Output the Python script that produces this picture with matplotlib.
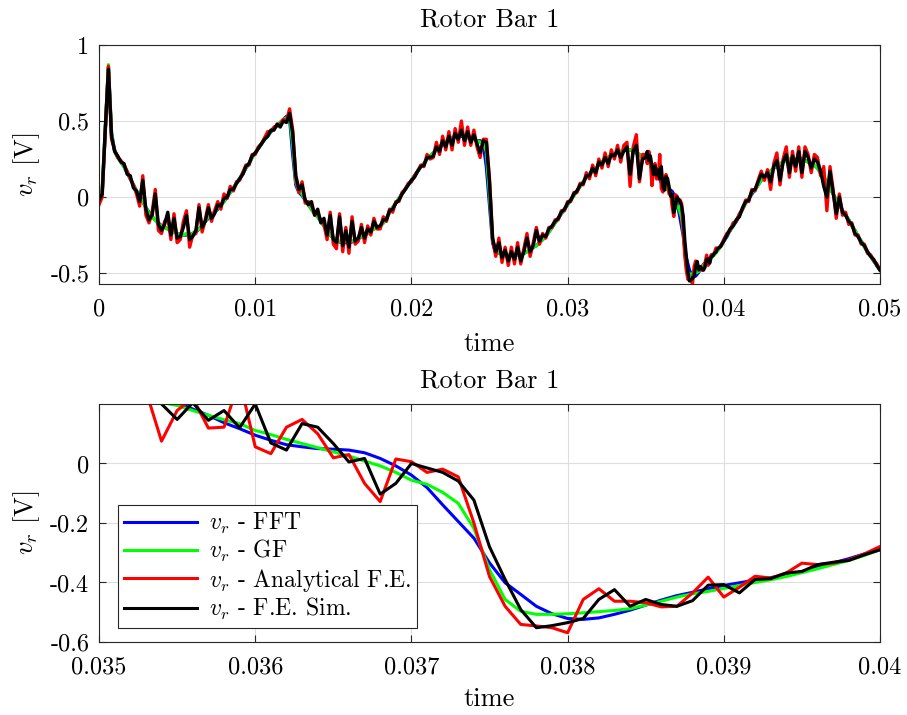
import numpy as np
import matplotlib
matplotlib.use('Agg')
import matplotlib.pyplot as plt

plt.rcParams['font.family'] = 'serif'
plt.rcParams['font.serif'] = ['cmr10']
plt.rcParams['mathtext.fontset'] = 'cm'
plt.rcParams['axes.formatter.use_mathtext'] = True

# sampling steps (s): coarse outside the zoom window, fine inside it
step_coarse = 0.0002
step_fine = 0.0001

# ---- v_r - FFT
fft_a = [-0.02, 0.03, 0.44, 0.85, 0.42, 0.30, 0.26, 0.23, 0.20, 0.16,
         0.12, 0.08, 0.04, 0.01, -0.03, -0.07, -0.10, -0.13, -0.15, -0.17,
         -0.19, -0.20, -0.21, -0.22, -0.23, -0.24, -0.245, -0.25, -0.25, -0.25,
         -0.24, -0.23, -0.21, -0.19, -0.16, -0.14, -0.12, -0.10, -0.08, -0.05,
         -0.03, 0.00, 0.03, 0.06, 0.09, 0.12, 0.15, 0.19, 0.22, 0.26,
         0.29, 0.32, 0.35, 0.38, 0.40, 0.43, 0.45, 0.47, 0.49, 0.51,
         0.53, 0.52, 0.28, 0.08, 0.03, 0.01, -0.02, -0.05, -0.08, -0.11,
         -0.13, -0.16, -0.19, -0.22, -0.25, -0.27, -0.285, -0.295, -0.30, -0.30,
         -0.30, -0.295, -0.285, -0.275, -0.26, -0.25, -0.24, -0.22, -0.21, -0.20,
         -0.19, -0.17, -0.14, -0.10, -0.07, -0.04, -0.01, 0.02, 0.05, 0.08,
         0.11, 0.14, 0.17, 0.20, 0.22, 0.25, 0.27, 0.29, 0.31, 0.33,
         0.35, 0.36, 0.38, 0.39, 0.40, 0.40, 0.40, 0.40, 0.39, 0.38,
         0.38, 0.37, 0.37, 0.35, 0.20, -0.05, -0.30, -0.37, -0.37, -0.37,
         -0.38, -0.38, -0.39, -0.39, -0.38, -0.38, -0.37, -0.36, -0.35, -0.33,
         -0.32, -0.30, -0.28, -0.26, -0.23, -0.20, -0.17, -0.14, -0.11, -0.08,
         -0.05, -0.02, 0.01, 0.04, 0.07, 0.10, 0.13, 0.15, 0.17, 0.19,
         0.21, 0.23, 0.25, 0.26, 0.27, 0.28, 0.29, 0.30, 0.31, 0.31,
         0.31, 0.30, 0.29, 0.28, 0.265]
fft_b = [0.255, 0.245, 0.235, 0.225, 0.215, 0.205, 0.183, 0.162, 0.137, 0.117,
         0.095, 0.078, 0.063, 0.056, 0.050, 0.048, 0.045, 0.036, 0.017, -0.008,
         -0.039, -0.081, -0.139, -0.195, -0.251, -0.334, -0.401, -0.44, -0.48, -0.505,
         -0.521, -0.524, -0.519, -0.507, -0.493, -0.476, -0.459, -0.444, -0.433, -0.421,
         -0.41, -0.401, -0.392, -0.384, -0.374, -0.363, -0.349, -0.334, -0.32, -0.304,
         -0.29]
fft_c = [-0.26, -0.22, -0.19, -0.16, -0.12, -0.08, -0.04, -0.01, 0.02, 0.05,
         0.08, 0.11, 0.13, 0.15, 0.17, 0.19, 0.20, 0.21, 0.23, 0.24,
         0.25, 0.25, 0.25, 0.25, 0.25, 0.24, 0.23, 0.22, 0.21, 0.19,
         0.16, 0.13, 0.10, 0.06, 0.02, -0.02, -0.05, -0.09, -0.12, -0.15,
         -0.19, -0.22, -0.26, -0.29, -0.32, -0.36, -0.39, -0.42, -0.45, -0.48]

# ---- v_r - GF
gf_a = [-0.02, 0.04, 0.46, 0.87, 0.41, 0.30, 0.26, 0.23, 0.20, 0.16,
        0.12, 0.08, 0.04, 0.00, -0.03, -0.07, -0.11, -0.13, -0.15, -0.18,
        -0.19, -0.20, -0.21, -0.23, -0.23, -0.24, -0.25, -0.25, -0.24, -0.26,
        -0.24, -0.22, -0.21, -0.19, -0.16, -0.13, -0.12, -0.10, -0.07, -0.05,
        -0.03, 0.00, 0.03, 0.06, 0.09, 0.12, 0.16, 0.19, 0.22, 0.26,
        0.29, 0.32, 0.35, 0.38, 0.40, 0.43, 0.45, 0.47, 0.49, 0.51,
        0.52, 0.54, 0.35, 0.10, 0.04, 0.02, -0.02, -0.05, -0.08, -0.11,
        -0.13, -0.16, -0.19, -0.22, -0.25, -0.27, -0.28, -0.29, -0.30, -0.29,
        -0.30, -0.29, -0.28, -0.27, -0.26, -0.25, -0.24, -0.22, -0.21, -0.20,
        -0.19, -0.17, -0.14, -0.10, -0.07, -0.04, -0.01, 0.02, 0.05, 0.08,
        0.11, 0.14, 0.17, 0.20, 0.22, 0.25, 0.27, 0.29, 0.31, 0.33,
        0.35, 0.36, 0.38, 0.39, 0.40, 0.40, 0.41, 0.40, 0.39, 0.38,
        0.38, 0.37, 0.36, 0.36, 0.30, 0.02, -0.28, -0.36, -0.37, -0.37,
        -0.38, -0.38, -0.39, -0.38, -0.38, -0.38, -0.37, -0.36, -0.35, -0.33,
        -0.32, -0.30, -0.28, -0.26, -0.23, -0.20, -0.17, -0.14, -0.11, -0.08,
        -0.05, -0.02, 0.01, 0.04, 0.07, 0.10, 0.13, 0.15, 0.17, 0.19,
        0.21, 0.23, 0.25, 0.26, 0.27, 0.28, 0.29, 0.30, 0.31, 0.31,
        0.31, 0.30, 0.29, 0.28, 0.26]
gf_b = [0.25, 0.24, 0.225, 0.215, 0.205, 0.195, 0.178, 0.162, 0.147, 0.134,
        0.111, 0.097, 0.081, 0.067, 0.053, 0.039, 0.025, 0.008, -0.008, -0.030,
        -0.056, -0.070, -0.097, -0.134, -0.218, -0.357, -0.457, -0.497, -0.507, -0.507,
        -0.505, -0.502, -0.498, -0.494, -0.488, -0.476, -0.463, -0.449, -0.438, -0.43,
        -0.42, -0.41, -0.40, -0.391, -0.38, -0.367, -0.354, -0.34, -0.326, -0.309,
        -0.29]
gf_c = [-0.25, -0.22, -0.19, -0.15, -0.12, -0.08, -0.04, -0.01, 0.03, 0.05,
        0.08, 0.11, 0.13, 0.15, 0.17, 0.19, 0.21, 0.22, 0.23, 0.24,
        0.25, 0.26, 0.25, 0.25, 0.25, 0.24, 0.23, 0.22, 0.21, 0.19,
        0.16, 0.13, 0.10, 0.06, 0.02, -0.02, -0.05, -0.09, -0.12, -0.15,
        -0.19, -0.22, -0.26, -0.29, -0.33, -0.36, -0.39, -0.42, -0.45, -0.48]

# ---- v_r - Analytical F.E.
afe_a = [-0.05, 0.00, 0.43, 0.86, 0.38, 0.31, 0.26, 0.24, 0.21, 0.17,
         0.12, 0.08, 0.02, -0.06, 0.14, -0.12, -0.17, -0.10, 0.05, -0.22,
         -0.24, -0.16, -0.13, -0.28, -0.11, -0.30, -0.28, -0.16, -0.09, -0.33,
         -0.25, -0.24, -0.05, -0.23, -0.15, -0.05, -0.16, -0.09, -0.03, -0.08,
         0.02, -0.01, 0.07, 0.04, 0.10, 0.11, 0.16, 0.21, 0.21, 0.28,
         0.28, 0.33, 0.35, 0.39, 0.43, 0.43, 0.46, 0.47, 0.48, 0.51,
         0.50, 0.58, 0.44, 0.12, 0.03, 0.10, -0.04, -0.03, -0.06, -0.10,
         -0.11, -0.15, -0.18, -0.28, -0.10, -0.31, -0.34, -0.11, -0.36, -0.20,
         -0.37, -0.13, -0.31, -0.29, -0.18, -0.30, -0.19, -0.25, -0.14, -0.21,
         -0.21, -0.13, -0.16, -0.08, -0.10, -0.03, -0.03, 0.03, 0.05, 0.09,
         0.10, 0.14, 0.17, 0.21, 0.20, 0.28, 0.25, 0.26, 0.36, 0.28,
         0.40, 0.31, 0.43, 0.31, 0.45, 0.36, 0.50, 0.34, 0.46, 0.34,
         0.44, 0.33, 0.26, 0.38, 0.38, 0.12, -0.28, -0.39, -0.27, -0.43,
         -0.33, -0.45, -0.33, -0.44, -0.30, -0.44, -0.34, -0.24, -0.39, -0.30,
         -0.20, -0.31, -0.24, -0.27, -0.20, -0.20, -0.15, -0.15, -0.09, -0.09,
         -0.03, -0.03, 0.03, 0.03, 0.09, 0.08, 0.16, 0.12, 0.21, 0.14,
         0.25, 0.19, 0.29, 0.20, 0.31, 0.25, 0.34, 0.23, 0.34, 0.36,
         0.07, 0.33, 0.41, 0.10, 0.28]
afe_b = [0.28, 0.22, 0.30, 0.245, 0.075, 0.178, 0.22, 0.119, 0.122, 0.28,
         0.056, 0.033, 0.122, 0.148, 0.100, 0.019, 0.030, -0.067, -0.128, 0.015,
         0.006, -0.030, -0.019, -0.045, -0.20, -0.38, -0.48, -0.541, -0.546, -0.552,
         -0.569, -0.457, -0.421, -0.463, -0.463, -0.468, -0.482, -0.48, -0.435, -0.382,
         -0.449, -0.416, -0.379, -0.385, -0.368, -0.335, -0.34, -0.335, -0.324, -0.304,
         -0.279]
afe_c = [-0.24, -0.22, -0.17, -0.16, -0.11, -0.08, -0.02, -0.03, 0.05, 0.04,
         0.11, 0.17, 0.11, 0.18, 0.05, 0.22, 0.29, 0.08, 0.25, 0.33,
         0.13, 0.30, 0.17, 0.33, 0.13, 0.33, 0.28, 0.16, 0.28, 0.26,
         0.14, 0.20, -0.09, 0.20, 0.05, -0.14, 0.02, -0.12, -0.10, -0.18,
         -0.17, -0.25, -0.25, -0.31, -0.31, -0.37, -0.38, -0.42, -0.44, -0.48]

# ---- v_r - F.E. Sim.
fes_a = [-0.02, 0.02, 0.45, 0.84, 0.40, 0.30, 0.27, 0.23, 0.22, 0.15,
         0.14, 0.06, 0.04, -0.03, 0.11, -0.08, -0.15, -0.12, 0.02, -0.18,
         -0.22, -0.18, -0.10, -0.25, -0.14, -0.27, -0.26, -0.20, -0.12, -0.28,
         -0.26, -0.22, -0.07, -0.20, -0.16, -0.07, -0.14, -0.11, -0.05, -0.06,
         -0.01, 0.00, 0.05, 0.05, 0.09, 0.12, 0.15, 0.20, 0.22, 0.27,
         0.29, 0.32, 0.35, 0.38, 0.40, 0.44, 0.44, 0.48, 0.46, 0.50,
         0.49, 0.55, 0.42, 0.14, 0.05, 0.08, -0.02, -0.05, -0.03, -0.12,
         -0.08, -0.17, -0.14, -0.25, -0.12, -0.28, -0.30, -0.13, -0.32, -0.22,
         -0.33, -0.16, -0.29, -0.27, -0.20, -0.27, -0.21, -0.23, -0.16, -0.20,
         -0.19, -0.15, -0.15, -0.09, -0.08, -0.04, -0.02, 0.02, 0.05, 0.08,
         0.11, 0.13, 0.17, 0.20, 0.21, 0.26, 0.26, 0.27, 0.33, 0.30,
         0.37, 0.33, 0.40, 0.34, 0.42, 0.38, 0.44, 0.37, 0.43, 0.36,
         0.41, 0.35, 0.29, 0.37, 0.36, 0.10, -0.27, -0.36, -0.30, -0.40,
         -0.35, -0.42, -0.36, -0.41, -0.33, -0.42, -0.36, -0.27, -0.36, -0.32,
         -0.22, -0.29, -0.25, -0.26, -0.21, -0.19, -0.16, -0.14, -0.10, -0.08,
         -0.04, -0.02, 0.02, 0.04, 0.08, 0.09, 0.14, 0.14, 0.19, 0.16,
         0.23, 0.21, 0.26, 0.22, 0.28, 0.27, 0.31, 0.26, 0.30, 0.33,
         0.15, 0.30, 0.34, 0.12, 0.25]
fes_b = [0.26, 0.30, 0.24, 0.27, 0.20, 0.148, 0.204, 0.145, 0.178, 0.120,
         0.20, 0.069, 0.045, 0.134, 0.122, 0.067, 0.005, 0.017, -0.103, -0.067,
         0.0, -0.015, -0.030, -0.059, -0.123, -0.28, -0.39, -0.491, -0.552, -0.545,
         -0.535, -0.521, -0.457, -0.424, -0.48, -0.457, -0.474, -0.48, -0.461, -0.409,
         -0.407, -0.435, -0.39, -0.387, -0.368, -0.363, -0.34, -0.332, -0.326, -0.307,
         -0.29]
fes_c = [-0.25, -0.21, -0.19, -0.15, -0.13, -0.07, -0.03, -0.02, 0.04, 0.05,
         0.10, 0.15, 0.13, 0.16, 0.10, 0.20, 0.24, 0.11, 0.23, 0.28,
         0.16, 0.27, 0.20, 0.30, 0.16, 0.30, 0.26, 0.19, 0.25, 0.23,
         0.17, 0.07, 0.00, 0.17, 0.03, -0.11, 0.00, -0.10, -0.12, -0.16,
         -0.18, -0.24, -0.26, -0.30, -0.32, -0.36, -0.39, -0.41, -0.45, -0.48]

labels = ['$v_r$ - FFT', '$v_r$ - GF', '$v_r$ - Analytical F.E.', '$v_r$ - F.E. Sim.']
colors = ['#0000ff', '#00ff00', '#ff0000', '#000000']

top_xticks = [0, 0.01, 0.02, 0.03, 0.04, 0.05]
top_yticks = [-0.5, 0, 0.5, 1]
bot_xticks = [0.035, 0.036, 0.037, 0.038, 0.039, 0.04]
bot_yticks = [-0.6, -0.4, -0.2, 0]


def build(a, b, c):
    t = np.concatenate([np.arange(len(a)) * step_coarse,
                        0.035 + np.arange(len(b)) * step_fine,
                        0.0402 + np.arange(len(c)) * step_coarse])
    return t, np.concatenate([a, b, c])


series = [build(fft_a, fft_b, fft_c), build(gf_a, gf_b, gf_c),
          build(afe_a, afe_b, afe_c), build(fes_a, fes_b, fes_c)]


def style(ax, xticks, yticks):
    ax.set_xticks(xticks, [f'{v:g}' for v in xticks])
    ax.set_yticks(yticks, [f'{v:g}' for v in yticks])
    ax.tick_params(direction='in', length=5, width=0.8, top=True, right=True,
                   labelsize=17.5, colors='#262626', labelcolor='black')
    ax.tick_params(axis='x', pad=10)
    ax.tick_params(axis='y', pad=7)
    ax.grid(True, color='#dedede', linewidth=0.8)
    ax.set_axisbelow(True)
    for sp in ax.spines.values():
        sp.set_color('#262626')
        sp.set_linewidth(0.8)


fig = plt.figure(figsize=(9.07, 7.15), dpi=100)
ax1 = fig.add_axes([0.1092, 0.6028, 0.861, 0.3343])
ax2 = fig.add_axes([0.1092, 0.1021, 0.861, 0.3329])

for (t, v), c, lab in zip(series, colors, labels):
    ax1.plot(t, v, color=c, lw=2.4, label=lab)
    ax2.plot(t, v, color=c, lw=2.2, label=lab)

ax1.set_xlim(0, 0.05)
ax1.set_ylim(-0.572, 1)
style(ax1, top_xticks, top_yticks)
ax1.set_title('Rotor Bar 1', fontsize=19, pad=13)
ax1.set_xlabel('time', fontsize=19)
ax1.set_ylabel('$v_r$ [V]', fontsize=19)
ax1.xaxis.set_label_coords(0.5, -0.2)
ax1.yaxis.set_label_coords(-0.073, 0.5)

ax2.set_xlim(0.035, 0.04)
ax2.set_ylim(-0.6, 0.2)
style(ax2, bot_xticks, bot_yticks)
ax2.set_title('Rotor Bar 1', fontsize=19, pad=12)
ax2.set_xlabel('time', fontsize=19)
ax2.set_ylabel('$v_r$ [V]', fontsize=19)
ax2.xaxis.set_label_coords(0.5, -0.19)
ax2.yaxis.set_label_coords(-0.073, 0.5)

leg = ax2.legend(loc='lower left', bbox_to_anchor=(0.024, 0.059), borderaxespad=0,
                 fontsize=17, fancybox=False, framealpha=1, edgecolor='#262626',
                 handlelength=3.1, handletextpad=0.5, labelspacing=0.1,
                 borderpad=0.25)
leg.get_frame().set_linewidth(0.8)

fig.savefig('out.png', dpi=100)
